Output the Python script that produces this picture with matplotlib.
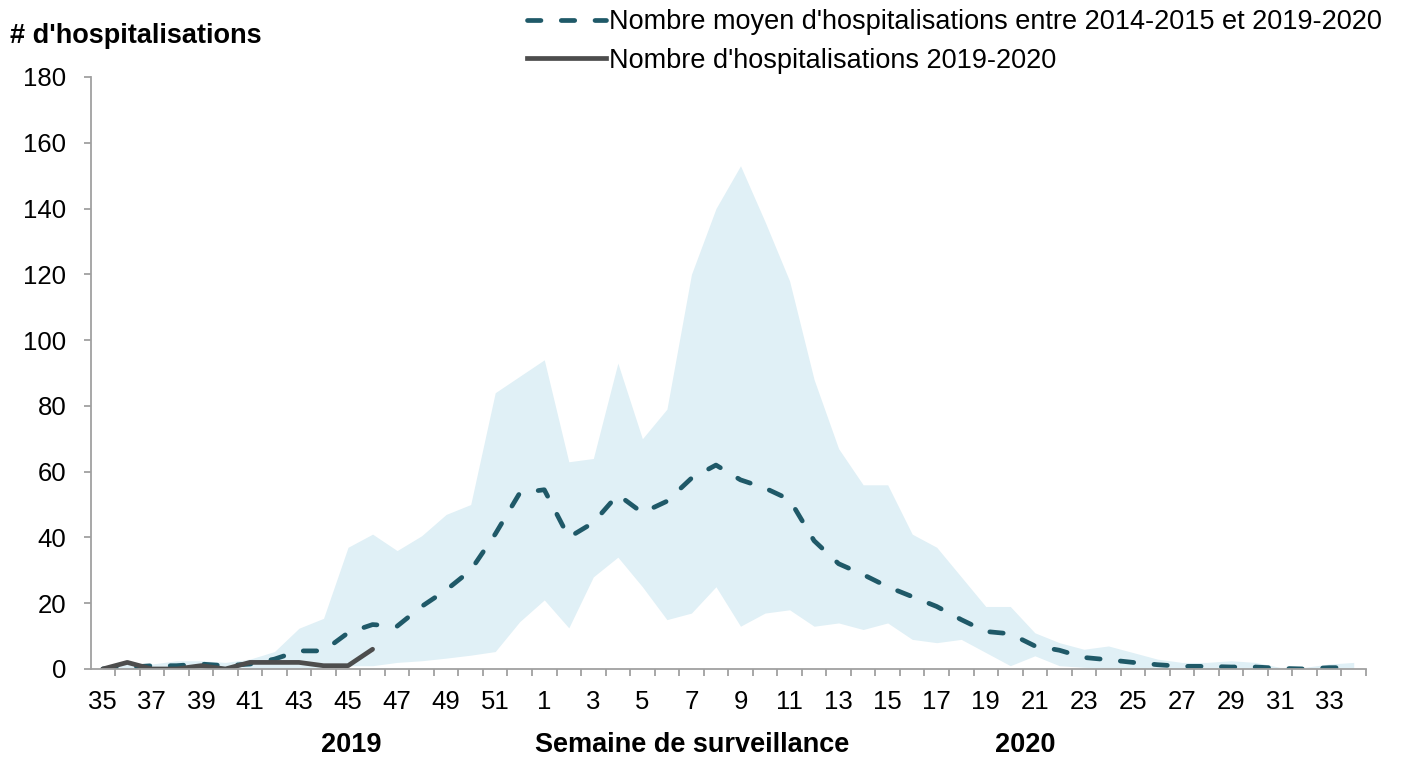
import matplotlib.pyplot as plt
from matplotlib.lines import Line2D

# semaines de surveillance : 35 -> 52 (2019) puis 1 -> 34 (2020)
weeks = list(range(35, 53)) + list(range(1, 35))

band_upper = [0.5, 1.5, 1.5, 2.5, 2.5, 2, 3, 5.3, 12.4, 15.4, 37, 41, 36, 40.5, 47, 50, 84, 89,
              94, 63, 64, 93, 70, 79, 120, 140, 153, 136, 118, 88, 67, 56, 56, 41, 37, 28, 19, 19,
              11, 8, 6, 7, 5, 3, 2, 2, 2.5, 2, 0.5, 0.5, 1.5, 2]
band_lower = [0, 0, 0, 0, 0, 0, 0, 0, 0, 0.5, 1, 1, 2, 2.5, 3.3, 4.2, 5.3, 14.4,
              21, 12.5, 28, 34, 25, 15, 17, 25, 13, 17, 18, 13, 14, 12, 14, 9, 8, 9, 5, 1,
              4, 1, 0.5, 0.3, 0.3, 0.3, 0.3, 0.3, 0.3, 0.3, 0.3, 0.3, 0.3, 0.3]
mean_hosp = [0, 0.5, 1, 1, 1.5, 1, 1.5, 3, 5.5, 5.5, 11, 13.5, 13, 19, 24, 30, 41, 53.5,
             54.5, 40, 44.5, 53, 47.5, 51, 58, 62, 57.5, 55, 51.5, 39, 32, 28.7, 25, 22, 19, 15,
             11.4, 10.7, 7, 5.7, 3.5, 2.8, 2, 1.3, 0.8, 0.8, 0.6, 0.6, 0.2, 0, 0.4, 0.4]
current = [0, 2, 0, 0, 1, 0, 2, 2, 2, 1, 1, 6]

plt.rcParams['font.family'] = ['Liberation Sans', 'DejaVu Sans']

MEAN_COLOR = '#1f5968'
CUR_COLOR = '#4d4d4d'
AXIS_COLOR = '#a0a0a0'
DASH = (0, (2.85, 4.3))
LW = 3.4

fig = plt.figure(figsize=(14.01, 7.59), dpi=100)
ax = fig.add_axes([0.0646, 0.1186, 0.9104, 0.78])

x = list(range(len(weeks)))
ax.fill_between(x, band_lower, band_upper, color='#e0f0f6', linewidth=0)
ax.plot(x, mean_hosp, color=MEAN_COLOR, linewidth=LW, linestyle=DASH, dash_capstyle='round')
ax.plot(range(len(current)), current, color=CUR_COLOR, linewidth=LW, solid_capstyle='round')

ax.set_xlim(-0.5, len(weeks) - 0.5)
ax.set_ylim(0, 180)
ax.set_yticks(range(0, 181, 20))
ax.set_xticks(x[::2])
ax.set_xticklabels([str(w) for w in weeks[::2]])
ax.set_xticks([i - 0.5 for i in range(1, len(weeks) + 1)], minor=True)

for side in ['top', 'right']:
    ax.spines[side].set_visible(False)
for side in ['left', 'bottom']:
    ax.spines[side].set_color(AXIS_COLOR)
    ax.spines[side].set_linewidth(1.3)

ax.tick_params(axis='y', labelsize=18.5, colors=AXIS_COLOR, labelcolor='black', length=5, width=1.3, pad=12.5)
ax.tick_params(axis='x', which='major', length=0, labelsize=18.5, labelcolor='black', pad=15)
ax.tick_params(axis='x', which='minor', length=5, width=1.3, colors=AXIS_COLOR)

fig.text(0.007, 0.952, "# d'hospitalisations", fontsize=19.5, fontweight='bold', va='center')
fig.text(0.251, 0.018, '2019', fontsize=19.5, fontweight='bold', ha='center', va='center')
fig.text(0.494, 0.018, 'Semaine de surveillance', fontsize=19.5, fontweight='bold', ha='center', va='center')
fig.text(0.7316, 0.018, '2020', fontsize=19.5, fontweight='bold', ha='center', va='center')

handles = [
    Line2D([], [], color=MEAN_COLOR, linewidth=LW, linestyle=DASH, dash_capstyle='round'),
    Line2D([], [], color=CUR_COLOR, linewidth=LW),
]
labels = ["Nombre moyen d'hospitalisations entre 2014-2015 et 2019-2020",
          "Nombre d'hospitalisations 2019-2020"]
fig.legend(handles, labels, loc='upper left', bbox_to_anchor=(0.3726, 0.9947), frameon=False,
           fontsize=19.5, handlelength=2.9, handletextpad=0.12, labelspacing=0.45,
           borderpad=0.2, borderaxespad=0)

fig.savefig('out.png', dpi=100)
